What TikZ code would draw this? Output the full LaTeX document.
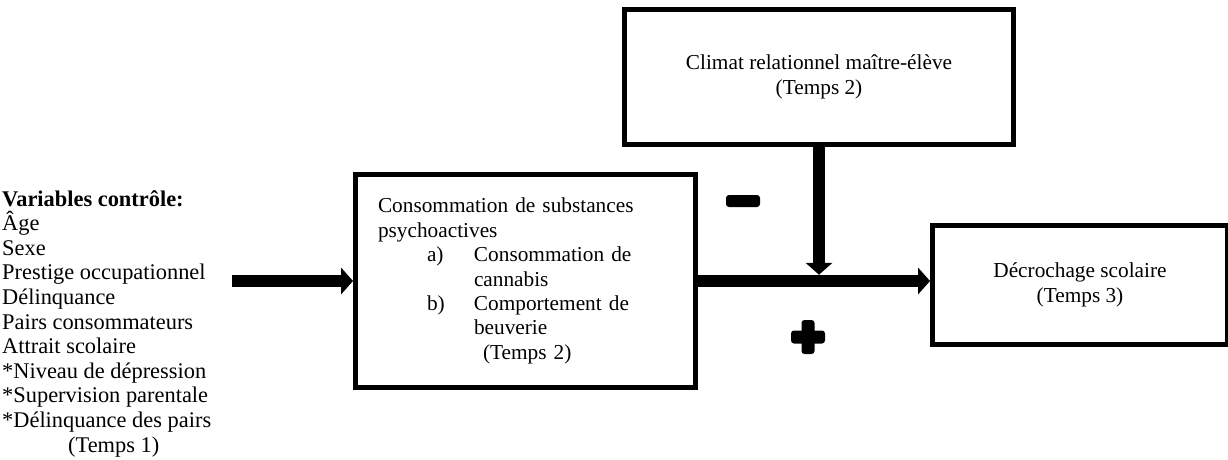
\documentclass[tikz,border=0pt]{standalone}
\usepackage{fontspec}
\setmainfont{Liberation Serif}
\usetikzlibrary{arrows.meta}
\begin{document}
\begin{tikzpicture}[x=1pt,y=-1pt,
  box/.style={draw, line width=5pt, inner sep=0pt},
  bigarrow/.style={line width=12.5pt, -{Triangle[length=12pt 0 0,width=27pt 0 0,line width=0pt 0 0]}},
  txt/.style={font=\fontsize{21.3}{24.4}\selectfont},
  sidetxt/.style={font=\fontsize{22.4}{24.6}\selectfont},
  sign/.style={fill=black, rounded corners=3pt}
]
\useasboundingbox (0,0) rectangle (1228,459);

\node[box, txt, minimum width=389pt, minimum height=135pt, align=center] (clim) at (819,77)
  {Climat relationnel maître-élève\\(Temps 2)};

\node[box, txt, minimum width=340pt, minimum height=213pt, text width=295pt, align=left] (cons) at (525.5,281)
  {Consommation de substances\\
   psychoactives\\
   \hspace*{49pt}\makebox[47pt][l]{a)}Consommation de\\
   \hspace*{96pt}cannabis\\
   \hspace*{49pt}\makebox[47pt][l]{b)}Comportement de\\
   \hspace*{96pt}beuverie\\
   \hspace*{105pt}(Temps 2)};

\node[box, txt, minimum width=295pt, minimum height=119pt, align=center] (dec) at (1080,285)
  {Décrochage scolaire\\(Temps 3)};

\node[sidetxt, anchor=north west, inner sep=0pt, align=left] (ctrl) at (2,190)
  {\textbf{Variables contrôle:}\\
   Âge\\
   Sexe\\
   Prestige occupationnel\\
   Délinquance\\
   Pairs consommateurs\\
   Attrait scolaire\\
   *Niveau de dépression\\
   *Supervision parentale\\
   *Délinquance des pairs\\
   \hspace*{66pt}(Temps 1)};

\coordinate (ls) at (232,281);
\draw[bigarrow] (ls) -- (cons.west);
\draw[bigarrow] (cons.east) -- (cons.east -| dec.west);
\draw[bigarrow, shorten >=6.25pt] (clim.south) -- (clim.south |- cons.east);

% minus sign
\path[sign] (726,195) rectangle (760,207);
% plus sign
\path[sign] (791,330.5) rectangle (825,343.5);
\path[sign] (801.5,320) rectangle (814.5,354);
\end{tikzpicture}
\end{document}
